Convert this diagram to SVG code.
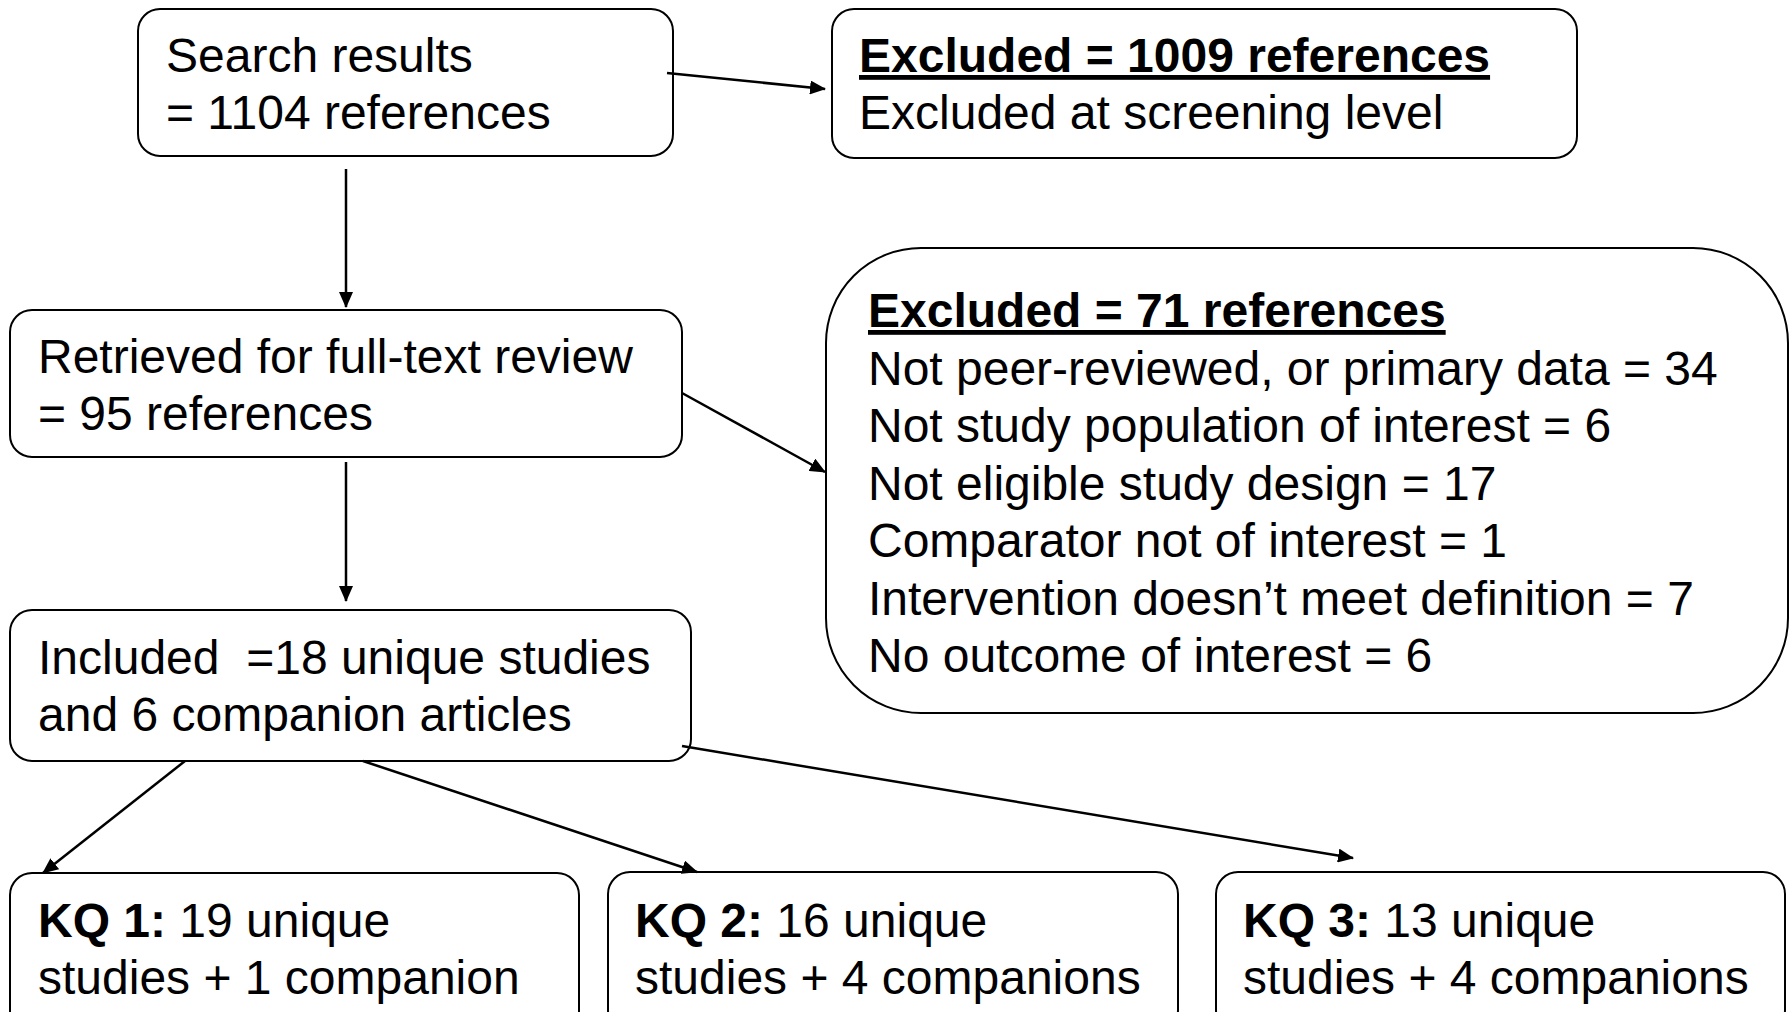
<svg xmlns="http://www.w3.org/2000/svg" width="1791" height="1012" viewBox="0 0 1791 1012">
  <style>
    .box { fill: #ffffff; stroke: #000000; stroke-width: 2; }
    .txt { font-family: "Liberation Sans", Arial, sans-serif; font-size: 48px; fill: #000000; }
    .b { font-weight: bold; }
    .u { text-decoration: underline; }
    .edge { stroke: #000000; stroke-width: 2.5; fill: none; marker-end: url(#arrow); }
  </style>
  <defs>
    <marker id="arrow" markerWidth="16" markerHeight="14" refX="15" refY="7" orient="auto" markerUnits="userSpaceOnUse">
      <path d="M0,0 L16,7 L0,14 Z" fill="#000000"/>
    </marker>
  </defs>
  <rect width="1791" height="1012" fill="#ffffff"/>

  <g id="search-results">
    <rect class="box" x="138" y="9" width="535" height="147" rx="22"/>
    <text class="txt" x="166" y="72">Search results</text>
    <text class="txt" x="166" y="129">= 1104 references</text>
  </g>

  <g id="excluded-screening">
    <rect class="box" x="832" y="9" width="745" height="149" rx="22"/>
    <text class="txt b u" x="859" y="72">Excluded = 1009 references</text>
    <text class="txt" x="859" y="129">Excluded at screening level</text>
  </g>

  <g id="full-text-review">
    <rect class="box" x="10" y="310" width="672" height="147" rx="22"/>
    <text class="txt" x="38" y="373">Retrieved for full-text review</text>
    <text class="txt" x="38" y="430">= 95 references</text>
  </g>

  <g id="excluded-full-text">
    <rect class="box" x="826" y="248" width="962" height="465" rx="95"/>
    <text class="txt b u" x="868" y="327">Excluded = 71 references</text>
    <text class="txt" x="868" y="385">Not peer-reviewed, or primary data = 34</text>
    <text class="txt" x="868" y="442">Not study population of interest = 6</text>
    <text class="txt" x="868" y="500">Not eligible study design = 17</text>
    <text class="txt" x="868" y="557">Comparator not of interest = 1</text>
    <text class="txt" x="868" y="615">Intervention doesn’t meet definition = 7</text>
    <text class="txt" x="868" y="672">No outcome of interest = 6</text>
  </g>

  <g id="included">
    <rect class="box" x="10" y="610" width="681" height="151" rx="22"/>
    <text class="txt" x="38" y="674" xml:space="preserve" style="white-space: pre">Included  =18 unique studies</text>
    <text class="txt" x="38" y="731">and 6 companion articles</text>
  </g>

  <g id="kq1">
    <rect class="box" x="10" y="873" width="569" height="160" rx="22"/>
    <text class="txt" x="38" y="937"><tspan class="b">KQ 1:</tspan> 19 unique</text>
    <text class="txt" x="38" y="994">studies + 1 companion</text>
  </g>

  <g id="kq2">
    <rect class="box" x="608" y="872" width="570" height="160" rx="22"/>
    <text class="txt" x="635" y="937"><tspan class="b">KQ 2:</tspan> 16 unique</text>
    <text class="txt" x="635" y="994">studies + 4 companions</text>
  </g>

  <g id="kq3">
    <rect class="box" x="1216" y="872" width="569" height="160" rx="22"/>
    <text class="txt" x="1243" y="937"><tspan class="b">KQ 3:</tspan> 13 unique</text>
    <text class="txt" x="1243" y="994">studies + 4 companions</text>
  </g>

  <g id="connectors">
    <line class="edge" x1="667" y1="73" x2="825" y2="89"/>
    <line class="edge" x1="346" y1="169" x2="346" y2="307"/>
    <line class="edge" x1="682" y1="393" x2="825" y2="472"/>
    <line class="edge" x1="346" y1="462" x2="346" y2="601"/>
    <line class="edge" x1="185" y1="761" x2="43" y2="873"/>
    <line class="edge" x1="363" y1="761" x2="697" y2="872"/>
    <line class="edge" x1="682" y1="746" x2="1353" y2="858"/>
  </g>
</svg>
